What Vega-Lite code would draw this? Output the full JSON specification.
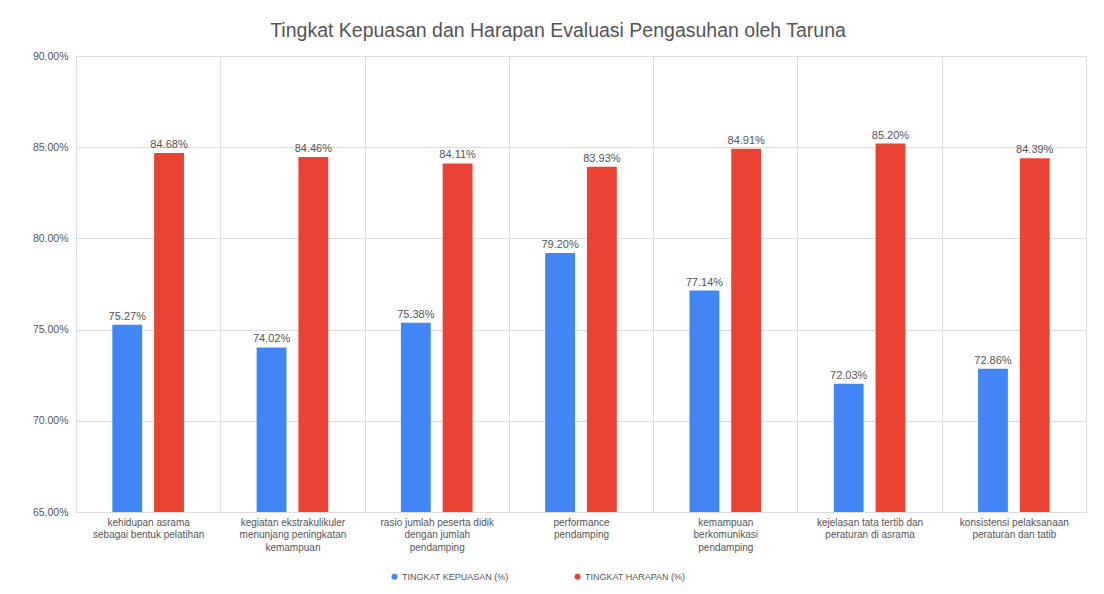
{
  "$schema": "https://vega.github.io/schema/vega-lite/v6.json",
  "width": 1010,
  "height": 456,
  "autosize": {"type": "none"},
  "padding": {"left": 76, "top": 56, "right": 18, "bottom": 82},
  "background": "white",
  "config": {"font": "Liberation Sans", "view": {"stroke": null}},
  "title": {
    "text": "Tingkat Kepuasan dan Harapan Evaluasi Pengasuhan oleh Taruna",
    "fontSize": 19.5,
    "fontWeight": "normal",
    "color": "#555555",
    "anchor": "middle",
    "offset": 10,
    "dx": -23
  },
  "data": {
    "values": [
      {"aspek": "kehidupan asrama|sebagai bentuk pelatihan", "seri": "TINGKAT KEPUASAN (%)", "nilai": 0.7527},
      {"aspek": "kehidupan asrama|sebagai bentuk pelatihan", "seri": "TINGKAT HARAPAN (%)", "nilai": 0.8468},
      {"aspek": "kegiatan ekstrakulikuler|menunjang peningkatan|kemampuan", "seri": "TINGKAT KEPUASAN (%)", "nilai": 0.7402},
      {"aspek": "kegiatan ekstrakulikuler|menunjang peningkatan|kemampuan", "seri": "TINGKAT HARAPAN (%)", "nilai": 0.8446},
      {"aspek": "rasio jumlah peserta didik|dengan jumlah|pendamping", "seri": "TINGKAT KEPUASAN (%)", "nilai": 0.7538},
      {"aspek": "rasio jumlah peserta didik|dengan jumlah|pendamping", "seri": "TINGKAT HARAPAN (%)", "nilai": 0.8411},
      {"aspek": "performance|pendamping", "seri": "TINGKAT KEPUASAN (%)", "nilai": 0.7920},
      {"aspek": "performance|pendamping", "seri": "TINGKAT HARAPAN (%)", "nilai": 0.8393},
      {"aspek": "kemampuan|berkomunikasi|pendamping", "seri": "TINGKAT KEPUASAN (%)", "nilai": 0.7714},
      {"aspek": "kemampuan|berkomunikasi|pendamping", "seri": "TINGKAT HARAPAN (%)", "nilai": 0.8491},
      {"aspek": "kejelasan tata tertib dan|peraturan di asrama", "seri": "TINGKAT KEPUASAN (%)", "nilai": 0.7203},
      {"aspek": "kejelasan tata tertib dan|peraturan di asrama", "seri": "TINGKAT HARAPAN (%)", "nilai": 0.8520},
      {"aspek": "konsistensi pelaksanaan|peraturan dan tatib", "seri": "TINGKAT KEPUASAN (%)", "nilai": 0.7286},
      {"aspek": "konsistensi pelaksanaan|peraturan dan tatib", "seri": "TINGKAT HARAPAN (%)", "nilai": 0.8439}
    ]
  },
  "encoding": {
    "x": {
      "field": "aspek",
      "type": "nominal",
      "sort": null,
      "scale": {"paddingInner": 0, "paddingOuter": 0},
      "axis": {
        "title": null,
        "tickBand": "extent",
        "grid": true,
        "gridColor": "#dddddd",
        "domain": false,
        "ticks": false,
        "labelAngle": 0,
        "labelExpr": "split(datum.label, '|')",
        "labelFontSize": 10,
        "labelColor": "#555555",
        "labelPadding": 5,
        "labelLineHeight": 12.5,
        "labelLimit": 160
      }
    },
    "xOffset": {
      "field": "seri",
      "sort": ["TINGKAT KEPUASAN (%)", "TINGKAT HARAPAN (%)"],
      "scale": {"paddingInner": 0.2857, "paddingOuter": 0.87}
    },
    "y": {
      "field": "nilai",
      "type": "quantitative",
      "scale": {"domain": [0.65, 0.9], "zero": false, "nice": false},
      "axis": {
        "title": null,
        "format": ".2%",
        "values": [0.65, 0.7, 0.75, 0.8, 0.85, 0.9],
        "gridColor": "#dddddd",
        "domain": false,
        "ticks": false,
        "labelFontSize": 10.5,
        "labelColor": "#555555",
        "labelPadding": 8
      }
    }
  },
  "layer": [
    {
      "mark": {"type": "bar"},
      "encoding": {
        "y2": {"datum": 0.65},
        "color": {
          "field": "seri",
          "type": "nominal",
          "scale": {
            "domain": ["TINGKAT KEPUASAN (%)", "TINGKAT HARAPAN (%)"],
            "range": ["#4285F4", "#EA4335"]
          },
          "legend": {
            "title": null,
            "orient": "none",
            "legendX": 314,
            "legendY": 516,
            "direction": "horizontal",
            "symbolType": "circle",
            "symbolSize": 36,
            "labelFontSize": 9,
            "labelColor": "#555555",
            "labelOffset": 3,
            "columnPadding": 64
          }
        }
      }
    },
    {
      "mark": {"type": "text", "dy": -8, "fontSize": 11, "color": "#555555"},
      "encoding": {
        "text": {"field": "nilai", "type": "quantitative", "format": ".2%"}
      }
    }
  ]
}
